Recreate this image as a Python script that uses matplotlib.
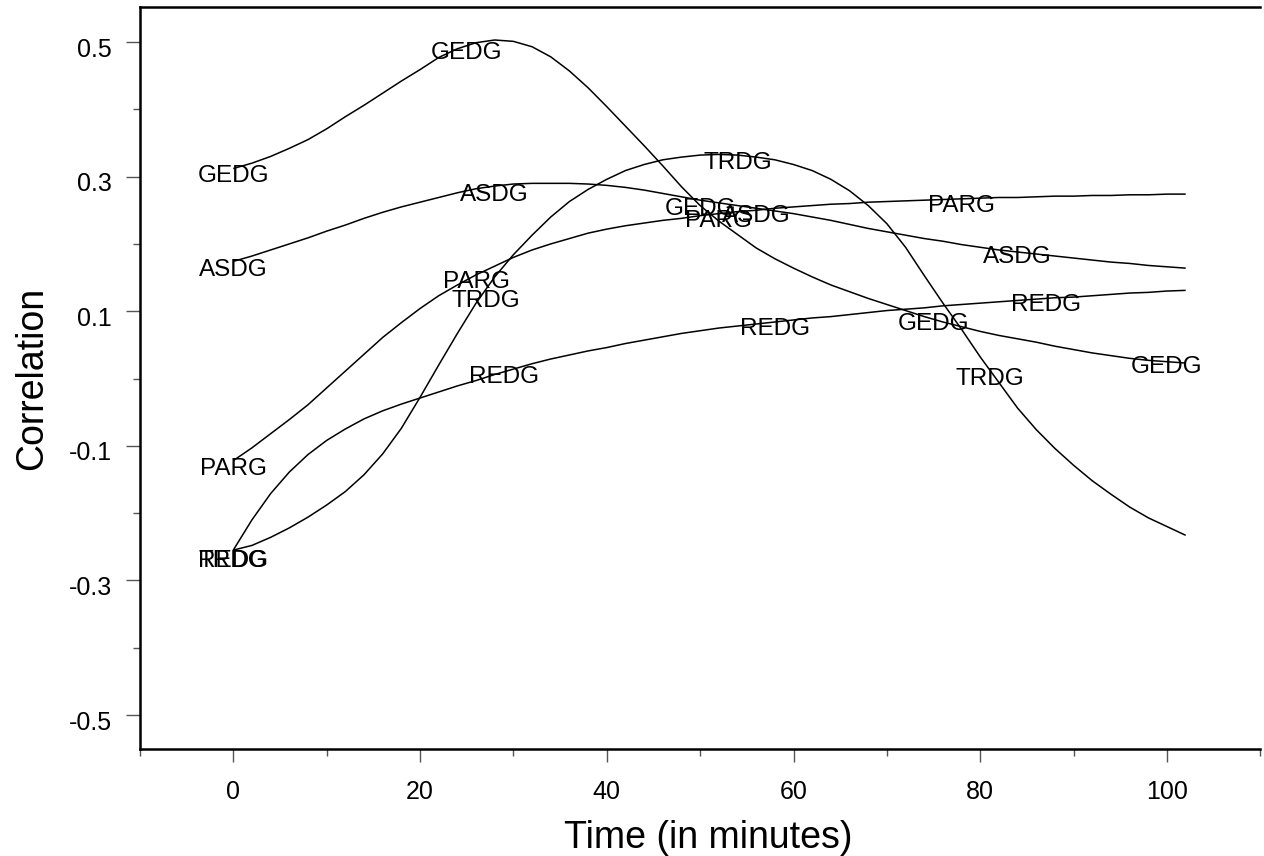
import matplotlib
matplotlib.use("Agg")
import matplotlib.pyplot as plt
from matplotlib.transforms import ScaledTranslation

# ---------------- data ----------------
time_min = list(range(0, 103, 2))  # 0, 2, ..., 102 minutes

gedg = [0.312, 0.320, 0.330, 0.342, 0.355, 0.371, 0.389, 0.406, 0.424, 0.442, 0.459,
        0.477, 0.490, 0.499, 0.503, 0.501, 0.493, 0.478, 0.457, 0.432, 0.404,
        0.375, 0.346, 0.316, 0.285, 0.257, 0.234, 0.214, 0.194, 0.178, 0.164,
        0.151, 0.139, 0.129, 0.119, 0.110, 0.101, 0.092, 0.084, 0.077, 0.070,
        0.064, 0.059, 0.054, 0.048, 0.043, 0.038, 0.034, 0.030, 0.027, 0.025, 0.023]

asdg = [0.174, 0.182, 0.191, 0.200, 0.209, 0.219, 0.228, 0.238, 0.247, 0.255, 0.262,
        0.269, 0.276, 0.282, 0.286, 0.289, 0.290, 0.290, 0.290, 0.289, 0.287,
        0.284, 0.280, 0.275, 0.270, 0.265, 0.261, 0.257, 0.253, 0.249, 0.245,
        0.240, 0.235, 0.229, 0.223, 0.218, 0.213, 0.208, 0.204, 0.199, 0.195,
        0.191, 0.188, 0.185, 0.182, 0.179, 0.176, 0.173, 0.171, 0.168, 0.166, 0.164]

parg = [-0.122, -0.103, -0.082, -0.061, -0.039, -0.014, 0.011, 0.036, 0.061, 0.083, 0.104,
        0.123, 0.139, 0.154, 0.167, 0.180, 0.191, 0.200, 0.208, 0.216, 0.222,
        0.227, 0.231, 0.235, 0.238, 0.242, 0.245, 0.248, 0.250, 0.253, 0.255,
        0.257, 0.259, 0.260, 0.262, 0.263, 0.264, 0.265, 0.266, 0.267, 0.268,
        0.269, 0.269, 0.270, 0.271, 0.271, 0.272, 0.272, 0.273, 0.273, 0.274, 0.274]

trdg = [-0.255, -0.248, -0.236, -0.222, -0.206, -0.188, -0.168, -0.143, -0.112, -0.074, -0.028,
        0.020, 0.067, 0.112, 0.151, 0.184, 0.213, 0.240, 0.263, 0.281, 0.296,
        0.309, 0.318, 0.325, 0.329, 0.332, 0.333, 0.332, 0.329, 0.325, 0.318,
        0.309, 0.296, 0.279, 0.257, 0.230, 0.195, 0.153, 0.112, 0.073, 0.032,
        -0.006, -0.044, -0.076, -0.104, -0.129, -0.152, -0.172, -0.191, -0.207, -0.220, -0.233]

redg = [-0.255, -0.210, -0.171, -0.139, -0.113, -0.092, -0.075, -0.060, -0.048, -0.038, -0.029,
        -0.020, -0.011, -0.003, 0.006, 0.014, 0.022, 0.029, 0.035, 0.041, 0.046,
        0.052, 0.057, 0.062, 0.067, 0.071, 0.075, 0.078, 0.081, 0.084, 0.087,
        0.090, 0.092, 0.095, 0.098, 0.101, 0.103, 0.105, 0.108, 0.110, 0.112,
        0.114, 0.116, 0.118, 0.120, 0.121, 0.123, 0.125, 0.127, 0.128, 0.130, 0.131]

series_names = ["GEDG", "ASDG", "PARG", "TRDG", "REDG"]

# curve-label positions (label centres)
gedg_lab_x = [0, 25, 50, 75, 100]
gedg_lab_y = [0.305, 0.487, 0.256, 0.085, 0.021]
asdg_lab_x = [0, 28, 56, 84]
asdg_lab_y = [0.166, 0.277, 0.246, 0.185]
parg_lab_x = [0, 26, 52, 78]
parg_lab_y = [-0.130, 0.148, 0.2375, 0.261]
trdg_lab_x = [0, 27, 54, 81]
trdg_lab_y = [-0.267, 0.119, 0.325, 0.004]
redg_lab_x = [0, 29, 58, 87]
redg_lab_y = [-0.267, 0.007, 0.078, 0.113]

x_major = [0, 20, 40, 60, 80, 100]
x_minor = [-10, 10, 30, 50, 70, 90, 110]
y_major = [-0.5, -0.3, -0.1, 0.1, 0.3, 0.5]
y_minor = [-0.4, -0.2, 0.0, 0.2, 0.4]
y_major_labels = ["-0.5", "-0.3", "-0.1", "0.1", "0.3", "0.5"]

x_title = "Time (in minutes)"
y_title = "Correlation"

# ---------------- figure ----------------
plt.rcParams["font.family"] = ["Liberation Sans", "DejaVu Sans"]

W, H = 1264, 856
fig = plt.figure(figsize=(W / 100, H / 100), dpi=100)
ax_l, ax_r = 139.9, 1260.4
ax_t, ax_b = 7.3, 749.0
ax = fig.add_axes([ax_l / W, (H - ax_b) / H, (ax_r - ax_l) / W, (ax_b - ax_t) / H])
ax.set_xlim(-10, 110)
ax.set_ylim(-0.5505, 0.5516)

curves = [gedg, asdg, parg, trdg, redg]
for ys in curves:
    ax.plot(time_min, ys, color="black", lw=1.1, solid_joinstyle="round",
            solid_capstyle="butt", clip_on=False)

lab_fs = 17.5
cap_px = lab_fs * 100 / 72 * 0.716
lab_trans = ax.transData + ScaledTranslation(0, -cap_px / 2 / 100, fig.dpi_scale_trans)
label_sets = [(gedg_lab_x, gedg_lab_y), (asdg_lab_x, asdg_lab_y), (parg_lab_x, parg_lab_y),
              (trdg_lab_x, trdg_lab_y), (redg_lab_x, redg_lab_y)]
for name, (lx, ly) in zip(series_names, label_sets):
    for xv, yv in zip(lx, ly):
        ax.text(xv, yv, name, ha="center", va="baseline", fontsize=lab_fs,
                color="black", transform=lab_trans)

# spines
for side in ["left", "bottom", "top"]:
    ax.spines[side].set_color("black")
    ax.spines[side].set_linewidth(1.8)
ax.spines["right"].set_visible(False)

# ticks
ax.set_xticks(x_major)
ax.set_xticks(x_minor, minor=True)
ax.set_yticks(y_major)
ax.set_yticklabels(y_major_labels)
ax.set_yticks(y_minor, minor=True)
ax.tick_params(axis="both", which="both", direction="out", color="#555555",
               width=1.0, labelsize=18, top=False, right=False)
ax.tick_params(axis="x", which="major", length=9.2, pad=13)
ax.tick_params(axis="x", which="minor", length=5)
ax.tick_params(axis="y", which="major", length=10, pad=10)
ax.tick_params(axis="y", which="minor", length=5)

yoff = ScaledTranslation(0, -5 / 100, fig.dpi_scale_trans)
for lbl in ax.yaxis.get_majorticklabels():
    lbl.set_transform(lbl.get_transform() + yoff)

# axis titles
ax.set_xlabel(x_title, fontsize=27)
ax.xaxis.set_label_coords((708 - ax_l) / (ax_r - ax_l), -(848 - ax_b) / (ax_b - ax_t))
ax.xaxis.label.set_va("baseline")
ax.set_ylabel(y_title, fontsize=27)
ax.yaxis.set_label_coords((32 - ax_l) / (ax_r - ax_l), 0.5)
ax.yaxis.label.set_va("center")
ax.yaxis.label.set_ha("center")

fig.savefig("out.png", dpi=100)
